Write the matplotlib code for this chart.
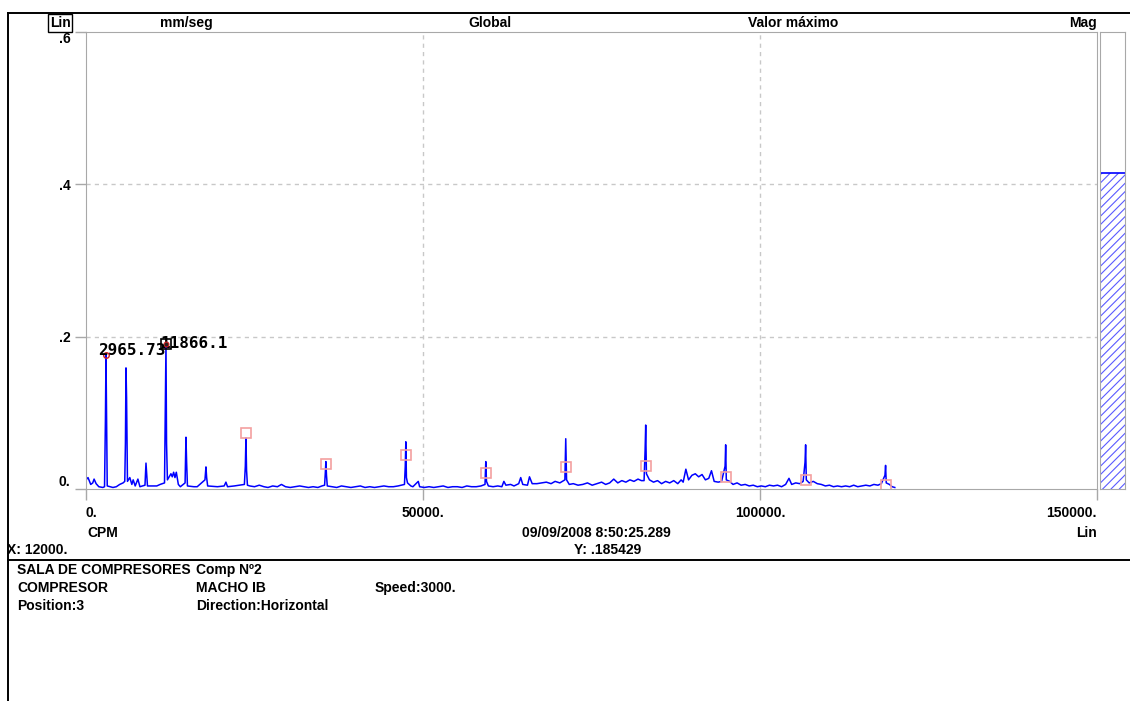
import matplotlib
matplotlib.use('Agg')
import matplotlib.pyplot as plt
from matplotlib.lines import Line2D

plt.rcParams['font.family'] = ['Liberation Sans Narrow', 'Liberation Sans', 'DejaVu Sans']
plt.rcParams['hatch.linewidth'] = 0.8

# spectrum (CPM, mm/seg)
cpm = [0, 300, 700, 1000, 1200, 1500, 1900, 2500, 2750, 2880, 2966, 3050, 3150, 4000, 4500,
       5000, 5500, 5750, 5850, 5933, 6020, 6150, 6500, 6800, 7000, 7300, 7700, 8000, 8750,
       8900, 9000, 9120, 10000, 10500, 11000, 11650, 11780, 11866, 11950, 12080, 12600,
       12800, 13000, 13200, 13400, 13700, 14000, 14700, 14831, 14930, 15050, 16000, 16500,
       17650, 17797, 17900, 18050, 19500, 20500, 20760, 21000, 22000, 23500, 23640, 23730,
       23820, 23950, 24300, 25000, 25700, 26400, 27000, 27700, 28400, 29000, 29600, 30300,
       31000, 31700, 32400, 33000, 33700, 34400, 35000, 35400, 35500, 35590, 35680, 35800,
       36500, 37200, 37900, 38600, 39300, 40000, 40700, 41400, 42100, 42800, 43500, 44200,
       44900, 45600, 46300, 47250, 47370, 47453, 47540, 47700, 48200, 48500, 49300, 49500,
       50200, 50900, 51600, 52300, 53000, 53700, 54400, 55100, 55800, 56500, 57200, 57900,
       58600, 59200, 59316, 59420, 59700, 60400, 61100, 61700, 62000, 62300, 63000, 63500,
       64200, 64500, 64800, 65500, 65800, 66200, 66900, 67600, 68300, 69000, 69600, 70300,
       71050, 71179, 71300, 71700, 72300, 73000, 73700, 74400, 75100, 75800, 76500, 77100,
       77700, 78300, 78900, 79500, 80100, 80700, 81300, 81900, 82400, 82800, 82950, 83042,
       83150, 83600, 84200, 84800, 85400, 86000, 86600, 87200, 87800, 88300, 88600, 89000,
       89400, 89900, 90400, 90900, 91400, 91900, 92400, 92800, 93200, 93800, 94300, 94820,
       94906, 95000, 95500, 96000, 96600, 97200, 97800, 98400, 99000, 99600, 100200, 100800,
       101400, 102000, 102600, 103200, 103800, 104300, 104700, 105300, 105900, 106400,
       106680, 106769, 106870, 107300, 107900, 108500, 109100, 109700, 110300, 110900,
       111500, 112100, 112700, 113300, 113900, 114500, 115100, 115700, 116300, 116900,
       117500, 118000, 118540, 118632, 118730, 119200, 119600, 120000]
amp = [0.012, 0.015, 0.006, 0.008, 0.013, 0.007, 0.003, 0.002, 0.003, 0.09, 0.176, 0.1, 0.004,
       0.002, 0.003, 0.006, 0.008, 0.01, 0.06, 0.159, 0.12, 0.01, 0.015, 0.006, 0.012, 0.004,
       0.013, 0.003, 0.005, 0.034, 0.02, 0.004, 0.004, 0.004, 0.006, 0.008, 0.12, 0.19, 0.06,
       0.012, 0.02, 0.016, 0.022, 0.015, 0.022, 0.006, 0.003, 0.008, 0.068, 0.035, 0.004,
       0.003, 0.003, 0.012, 0.029, 0.015, 0.004, 0.003, 0.004, 0.009, 0.003, 0.004, 0.006,
       0.03, 0.067, 0.025, 0.005, 0.004, 0.003, 0.005, 0.003, 0.002, 0.004, 0.003, 0.006,
       0.003, 0.002, 0.003, 0.004, 0.003, 0.002, 0.003, 0.002, 0.004, 0.005, 0.02, 0.036,
       0.018, 0.004, 0.003, 0.002, 0.004, 0.003, 0.002, 0.003, 0.004, 0.002, 0.003, 0.002,
       0.003, 0.004, 0.003, 0.003, 0.004, 0.006, 0.03, 0.062, 0.015, 0.008, 0.004, 0.003,
       0.01, 0.003, 0.002, 0.003, 0.002, 0.003, 0.004, 0.002, 0.003, 0.003, 0.002, 0.004,
       0.003, 0.003, 0.004, 0.006, 0.036, 0.01, 0.004, 0.003, 0.004, 0.003, 0.01, 0.005,
       0.006, 0.004, 0.007, 0.015, 0.006, 0.005, 0.016, 0.007, 0.007, 0.008, 0.009, 0.007,
       0.01, 0.008, 0.012, 0.066, 0.012, 0.006, 0.007, 0.005, 0.006, 0.008, 0.005, 0.007,
       0.009, 0.006, 0.008, 0.013, 0.008, 0.011, 0.009, 0.012, 0.01, 0.013, 0.011, 0.011,
       0.05, 0.084, 0.02, 0.012, 0.009, 0.011, 0.007, 0.01, 0.008, 0.011, 0.007, 0.012, 0.009,
       0.026, 0.012, 0.018, 0.02, 0.016, 0.019, 0.012, 0.014, 0.024, 0.01, 0.009, 0.01, 0.03,
       0.058, 0.012, 0.01, 0.006, 0.008, 0.005, 0.006, 0.004, 0.005, 0.003, 0.004, 0.003,
       0.005, 0.004, 0.005, 0.003, 0.006, 0.014, 0.006, 0.008, 0.007, 0.01, 0.035, 0.058,
       0.012, 0.008, 0.01, 0.007, 0.006, 0.004, 0.005, 0.003, 0.004, 0.003, 0.004, 0.003,
       0.005, 0.003, 0.004, 0.005, 0.004, 0.006, 0.005, 0.007, 0.018, 0.031, 0.008, 0.006,
       0.003, 0.002]

# harmonic markers
mark_cpm = [23730, 35590, 47453, 59316, 71179, 83042, 94906, 106769, 118632]
mark_amp = [0.073, 0.033, 0.045, 0.021, 0.029, 0.030, 0.016, 0.012, 0.005]

# labelled peaks
peak_cpm = [2965.73, 11866.1]
peak_amp = [0.176, 0.19]
peak_txt = ['2965.73', '11866.1']

mag_value = 0.415

yticks = [0, 0.2, 0.4, 0.6]
ytick_lbl = ['0.', '.2', '.4', '.6']
xticks = [0, 50000, 100000, 150000]
xtick_lbl = ['0.', '50000.', '100000.', '150000.']

W, H = 1130, 701
fig = plt.figure(figsize=(W / 100, H / 100), dpi=100)


def fx(px):
    return px / W


def fy(py):
    return 1 - py / H


grid_c = '#c8c8c8'
spine_c = '#a8a8a8'

ax = fig.add_axes([fx(86), fy(489), (1097 - 86) / W, (489 - 32) / H])
ax.plot(cpm, amp, color='#0000ff', lw=1.1)
ax.plot(mark_cpm, mark_amp, ls='none', marker='s', ms=7.2, mfc='none',
        mec='#f4a0a0', mew=1.2)
ax.plot(peak_cpm[0], peak_amp[0], marker='o', ms=4, mfc='none', mec='#d02020', mew=1)
ax.plot(peak_cpm[1], peak_amp[1], marker='s', ms=7, mfc='none', mec='black', mew=1.2)
ax.plot(peak_cpm[1], peak_amp[1], marker='o', ms=3.5, mfc='#302020', mec='#d02020', mew=0.8)
ax.text(peak_cpm[0] - 1200, peak_amp[0] + 0.006, peak_txt[0], family='DejaVu Sans Mono',
        weight='bold', fontsize=11.5, va='center', ha='left')
ax.text(peak_cpm[1] - 800, peak_amp[1] + 0.001, peak_txt[1], family='DejaVu Sans Mono',
        weight='bold', fontsize=11.5, va='center', ha='left', zorder=1)

ax.set_xlim(0, 150000)
ax.set_ylim(0, 0.6)
ax.set_yticks(yticks)
ax.set_yticklabels(ytick_lbl)
ax.set_xticks(xticks)
ax.set_xticklabels(xtick_lbl)
for s in ax.spines.values():
    s.set_color(spine_c)
ax.tick_params(colors=spine_c, length=8, width=1, labelcolor='black', labelsize=10)
ax.tick_params(axis='x', pad=4)
ax.tick_params(axis='y', pad=3)
for t in ax.get_yticklabels():
    t.set_fontweight('bold')
ax.get_yticklabels()[0].set_va('bottom')
ax.get_yticklabels()[-1].set_va('top')
for t in ax.get_xticklabels():
    t.set_fontweight('bold')
ax.get_xticklabels()[0].set_ha('left')
ax.get_xticklabels()[-1].set_ha('right')
for y in yticks[1:3]:
    ax.axhline(y, color=grid_c, ls=(0, (3, 3)), lw=1, zorder=0)
for x in xticks[1:3]:
    ax.axvline(x, color=grid_c, ls=(0, (3, 3)), lw=1, zorder=0)

# magnitude bar
mx = fig.add_axes([fx(1100), fy(489), 25 / W, (489 - 32) / H])
mx.bar([0], [mag_value], width=1.0, align='edge', facecolor='white',
       edgecolor='#5a5aff', hatch='////', lw=0)
mx.axhline(mag_value, color='#0000ff', lw=1.2)
mx.set_xlim(0, 1)
mx.set_ylim(0, 0.6)
mx.set_xticks([])
mx.set_yticks([])
for s in mx.spines.values():
    s.set_color(spine_c)

# frame lines
for xs, ys in [((8, W), (13, 13)), ((8, 8), (13, H)), ((8, W), (560, 560))]:
    fig.add_artist(Line2D([fx(v) for v in xs], [fy(v) for v in ys], color='black', lw=1.4))

kw = dict(fontsize=10, weight='bold', va='center')
fig.text(fx(50), fy(23), 'Lin', ha='left',
         bbox=dict(boxstyle='square,pad=0.12', fc='white', ec='black', lw=1), **kw)
fig.text(fx(186), fy(23), 'mm/seg', ha='center', **kw)
fig.text(fx(490), fy(23), 'Global', ha='center', **kw)
fig.text(fx(793), fy(23), 'Valor máximo', ha='center', **kw)
fig.text(fx(1097), fy(23), 'Mag', ha='right', **kw)

fig.text(fx(87), fy(533), 'CPM', ha='left', **kw)
fig.text(fx(596), fy(533), '09/09/2008 8:50:25.289', ha='center', **kw)
fig.text(fx(1097), fy(533), 'Lin', ha='right', **kw)
fig.text(fx(7), fy(550), 'X: 12000.', ha='left', **kw)
fig.text(fx(608), fy(550), 'Y: .185429', ha='center', **kw)

fig.text(fx(17), fy(570), 'SALA DE COMPRESORES', ha='left', **kw)
fig.text(fx(196), fy(570), 'Comp Nº2', ha='left', **kw)
fig.text(fx(17), fy(588), 'COMPRESOR', ha='left', **kw)
fig.text(fx(196), fy(588), 'MACHO IB', ha='left', **kw)
fig.text(fx(375), fy(588), 'Speed:3000.', ha='left', **kw)
fig.text(fx(17), fy(606), 'Position:3', ha='left', **kw)
fig.text(fx(196), fy(606), 'Direction:Horizontal', ha='left', **kw)

fig.savefig('out.png', dpi=100)
